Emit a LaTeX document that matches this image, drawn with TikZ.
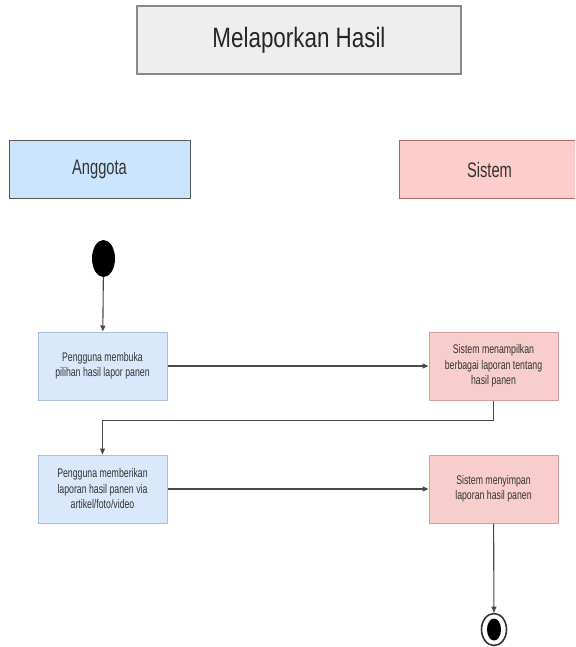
\documentclass[tikz,border=0pt]{standalone}
\usepackage{fontspec}
\setmainfont{Liberation Sans}
\newfontfamily\narrowfont[FakeStretch=0.7]{Liberation Sans}
\newfontfamily\titlefont[FakeStretch=0.8]{Liberation Sans}
\usetikzlibrary{shapes.geometric,arrows.meta}

\definecolor{titlebg}{HTML}{EEEEEE}
\definecolor{titleline}{HTML}{8A8A8A}
\definecolor{laneblue}{HTML}{CCE5FF}
\definecolor{lanered}{HTML}{FFCCCC}
\definecolor{actblue}{HTML}{DAE8FC}
\definecolor{actred}{HTML}{F8CECC}
\definecolor{blueline}{HTML}{A9BFDD}
\definecolor{redline}{HTML}{D4A09E}
\definecolor{inkgray}{HTML}{333333}
\definecolor{wiregray}{HTML}{4A4A4A}

\begin{document}
\begin{tikzpicture}[x=1pt,y=-1pt,
    lane/.style={rectangle, draw=black!65, line width=1pt, inner sep=0pt,
      minimum width=181pt, minimum height=57pt, text=inkgray,
      font=\narrowfont\fontsize{21}{24}\selectfont},
    act/.style={rectangle, line width=1pt, inner sep=0pt, align=center,
      minimum width=129pt, minimum height=68pt, text=inkgray,
      font=\narrowfont\fontsize{12.5}{15.5}\selectfont},
    flow/.style={draw=wiregray, line width=1.1pt,
      -{Triangle[length=6pt,width=5pt]}}]
  \clip (0,0) rectangle (575,647);
  \fill[white] (0,0) rectangle (575,647);

  % title
  \node[rectangle, draw=titleline, fill=titlebg, line width=1.2pt,
    minimum width=324pt, minimum height=68pt, inner sep=0pt, text=black!85,
    font=\titlefont\fontsize{28}{32}\selectfont] (title) at (299,40) {Melaporkan Hasil};

  % swimlane heads
  \node[lane, fill=laneblue] (anggota) at (99.5,169.5) {Anggota};
  \node[lane, fill=lanered, draw=black!55!red!60] (sistem) at (489.5,169.5) {Sistem};

  % activities
  \begin{scope}[every node/.append style={act}]
    \node[fill=actblue, draw=blueline] (buka) at (102.5,366)
      {Pengguna membuka\\pilihan hasil lapor panen};
    \node[fill=actred, draw=redline] (tampil) at (493.5,366)
      {Sistem menampilkan\\berbagai laporan tentang\\hasil panen};
    \node[fill=actblue, draw=blueline] (beri) at (102.5,489)
      {Pengguna memberikan\\laporan hasil panen via\\artikel/foto/video};
    \node[fill=actred, draw=redline] (simpan) at (493.5,489)
      {Sistem menyimpan\\laporan hasil panen};
  \end{scope}

  % start / end
  \node[ellipse, fill=black, inner sep=0pt, minimum width=23pt,
    minimum height=37pt] (mulai) at (103.5,258.5) {};
  \node[ellipse, draw=black!80, line width=1.6pt, fill=white, inner sep=0pt,
    minimum width=25pt, minimum height=32pt] (selesai) at (494,629.5) {};
  \node[ellipse, fill=black, inner sep=0pt, minimum width=14pt,
    minimum height=22pt] (selesai-in) at (494,629.5) {};

  % flow
  \draw[flow] (mulai) -- (buka);
  \draw[flow] (buka) -- (tampil);
  \draw[flow] (tampil.south) -- ++(0,20) -| (beri.north);
  \draw[flow] (beri) -- (simpan);
  \draw[flow] (simpan) -- (selesai);
\end{tikzpicture}
\end{document}
